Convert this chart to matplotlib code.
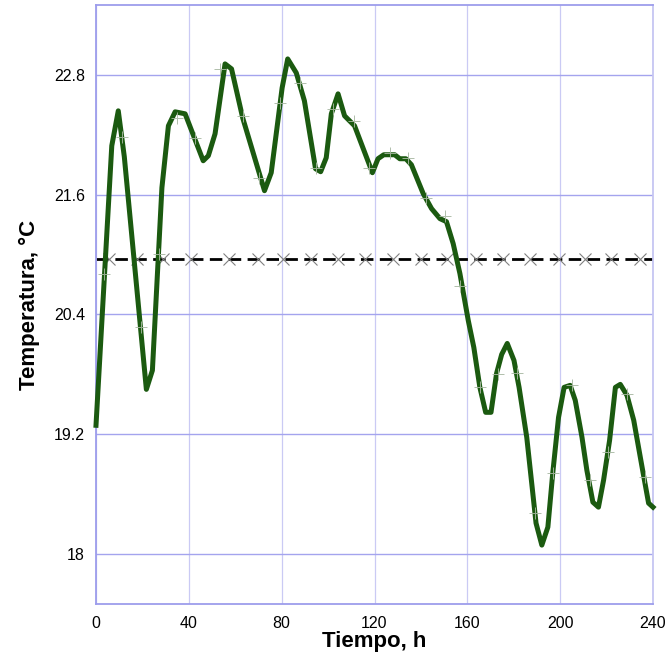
import matplotlib
matplotlib.use("Agg")
import matplotlib.pyplot as plt

# Indoor temperature record (hours, °C)
time_h = [0, 6.8, 9.6, 12.2, 21.7, 24.3, 28.4, 31.2, 34.1, 38.4, 46.2, 48.4,
          51.3, 55.6, 58.4, 63.2, 72.6, 75.5, 80.2, 82.6, 86.3, 89.8, 94.6,
          96.8, 99.2, 101.4, 104.3, 107.1, 111.4, 119.1, 121.5, 124.0, 128.7,
          130.9, 133.5, 135.9, 141.0, 144.6, 148.2, 151.0, 153.9, 156.8, 160.4,
          162.8, 165.4, 167.9, 170.2, 172.6, 174.8, 177.2, 180.1, 182.3, 185.6,
          189.6, 192.1, 194.7, 196.8, 199.3, 201.7, 204.3, 206.5, 209.4, 211.5,
          214.1, 216.5, 218.7, 221.3, 223.8, 225.9, 228.8, 231.7, 235.3, 238.1,
          240.0]
temp_c = [19.29, 22.09, 22.44, 21.98, 19.65, 19.84, 21.67, 22.29, 22.43, 22.41,
          21.94, 21.99, 22.21, 22.91, 22.86, 22.37, 21.64, 21.82, 22.67, 22.96,
          22.82, 22.54, 21.86, 21.83, 21.97, 22.41, 22.61, 22.39, 22.29, 21.82,
          21.96, 22.00, 22.00, 21.96, 21.96, 21.90, 21.61, 21.46, 21.36, 21.33,
          21.11, 20.81, 20.34, 20.07, 19.67, 19.42, 19.42, 19.81, 20.00, 20.11,
          19.94, 19.67, 19.17, 18.31, 18.09, 18.27, 18.81, 19.37, 19.67, 19.69,
          19.54, 19.17, 18.84, 18.52, 18.47, 18.74, 19.14, 19.67, 19.70, 19.59,
          19.34, 18.87, 18.51, 18.47]

# Sample points marked along the record
sample_h = [3.5, 11.4, 19.3, 27.2, 35.1, 42.8, 53.6, 63.2, 70.4, 79.2, 87.7,
            94.6, 102.1, 111.0, 117.6, 126.6, 134.5, 142.4, 150.3, 156.8, 165.4,
            173.3, 181.3, 189.2, 196.8, 205.1, 212.7, 220.4, 228.8, 236.7]
sample_c = [20.81, 22.18, 20.27, 21.01, 22.37, 22.17, 22.86, 22.39, 21.77,
            22.52, 22.72, 21.87, 22.46, 22.34, 21.87, 22.02, 21.97, 21.57, 21.39,
            20.69, 19.67, 19.80, 19.81, 18.41, 18.81, 19.69, 18.74, 19.02, 19.60,
            18.77]

# Reference (mean) temperature and its markers
reference_c = 20.96
reference_marks_h = [5.6, 17.6, 29.0, 40.9, 57.4, 69.7, 80.5, 92.7, 104.2, 115.8,
                     128.0, 140.2, 151.3, 163.7, 175.5, 187.0, 199.3, 210.8,
                     221.9, 234.3]

x_ticks = [0, 40, 80, 120, 160, 200, 240]
y_ticks = [18, 19.2, 20.4, 21.6, 22.8]
y_tick_labels = ["18", "19.2", "20.4", "21.6", "22.8"]

plt.rcParams["font.family"] = ["Liberation Sans", "DejaVu Sans"]

fig = plt.figure(figsize=(6.70, 6.64), dpi=100)
ax = fig.add_axes([96 / 670, 60 / 664, 557 / 670, 599 / 664])

ax.set_xlim(0, 240)
ax.set_ylim(17.5, 23.5)

# grid
for xv in x_ticks:
    ax.axvline(xv, color="#cacaf4", lw=0.9, zorder=0)
for yv in y_ticks:
    ax.axhline(yv, color="#a4a4ee", lw=1.0, zorder=0)

for side in ["left", "bottom", "top"]:
    ax.spines[side].set_color("#9d9dec")
    ax.spines[side].set_linewidth(1.3)
ax.spines["right"].set_color("#c6c6f2")
ax.spines["right"].set_linewidth(1.3)

# reference line
ax.axhline(reference_c, color="black", lw=2.0, dashes=(4.5, 2.3), zorder=2)
ax.plot(reference_marks_h, [reference_c] * len(reference_marks_h), ls="none",
        marker="x", ms=8, mew=0.8, color="#808080", zorder=3)

# temperature record
ax.plot(time_h, temp_c, color="#1b5a10", lw=3.6, solid_joinstyle="round",
        zorder=4, clip_on=False)
ax.plot(sample_h, sample_c, ls="none", marker="+", ms=9, mew=0.7,
        color="#a8b8a2", alpha=0.9, zorder=5)

ax.set_xticks(x_ticks)
ax.set_yticks(y_ticks)
ax.set_yticklabels(y_tick_labels)
ax.tick_params(axis="both", length=0, labelsize=11.5, colors="black")
ax.tick_params(axis="x", pad=9)
ax.tick_params(axis="y", pad=8)

ax.set_xlabel("Tiempo, h", fontsize=16, fontweight="bold", labelpad=0)
ax.set_ylabel("Temperatura, °C", fontsize=16, fontweight="bold", labelpad=10)

fig.savefig("out.png", dpi=100)
